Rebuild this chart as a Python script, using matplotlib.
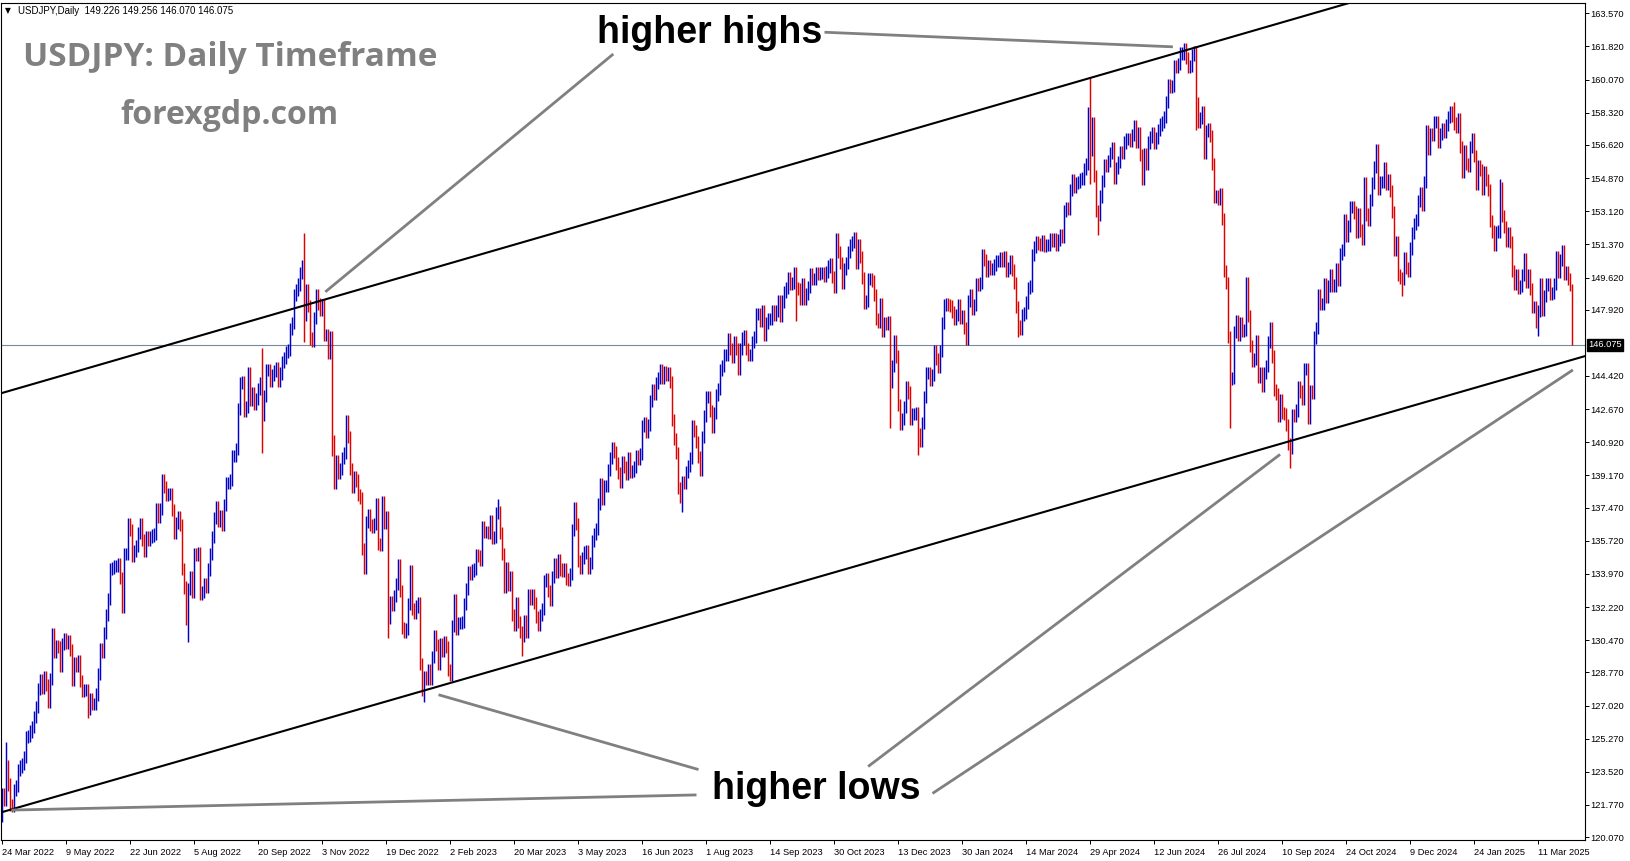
import numpy as np
import pandas as pd
import matplotlib
matplotlib.use("Agg")
import matplotlib.pyplot as plt

# USDJPY daily closes, one row per trading week
weekly_closes = [
    # 2022
    [122.35, 122.05],
    [123.85, 122.85, 121.75, 121.70, 122.55],
    [122.75, 123.60, 123.80, 123.95, 124.30],
    [125.35, 125.40, 125.65, 125.90, 126.40],
    [126.95, 127.90, 128.35, 127.95, 128.50],
    [128.10, 127.20, 128.40, 130.80, 129.85],
    [130.15, 130.10, 129.10, 130.25, 130.55],
    [130.30, 130.45, 129.95, 128.35, 129.25],
    [129.10, 129.35, 128.30, 127.80, 127.85],
    [127.85, 126.85, 127.35, 127.10, 127.10],
    [127.60, 128.70, 130.00, 129.85, 130.85],
    [131.80, 132.65, 134.25, 134.30, 134.40],
    [134.40, 134.50, 133.75, 132.20, 135.00],
    [135.00, 136.60, 136.30, 134.90, 135.20],
    [135.45, 136.15, 136.60, 135.75, 135.20],
    [135.90, 135.75, 135.90, 136.00, 136.10],
    [137.40, 137.00, 137.40, 138.90, 138.55],
    [138.15, 138.20, 138.20, 137.35, 136.15],
    [136.65, 136.95, 136.55, 134.25, 133.25],
    [131.60, 133.15, 133.80, 133.00, 135.00],
    [134.95, 135.05, 132.90, 133.00, 133.45],
    [133.30, 134.20, 135.00, 135.90, 136.90],
    [137.50, 136.75, 137.05, 136.55, 137.60],
    [138.75, 138.75, 138.95, 140.20, 140.20],
    [140.55, 142.70, 144.05, 144.10, 142.55],
    [142.80, 144.55, 143.15, 143.50, 142.95],
    [143.20, 143.75, 144.05, 142.35, 143.35],
    [144.75, 144.75, 144.15, 144.45, 144.70],
    [144.85, 144.15, 144.55, 145.15, 145.35],
    [145.70, 145.80, 146.90, 147.20, 148.70],
    [148.95, 149.25, 149.85, 150.20, 147.65],
    [148.95, 148.10, 146.40, 146.25, 147.50],
    [148.70, 148.20, 147.90, 148.15, 146.60],
    [146.60, 145.65, 146.45, 141.00, 138.75],
    [139.95, 139.30, 139.50, 140.10, 140.35],
    [142.05, 141.20, 139.50, 138.55, 139.10],
    [138.90, 138.15, 138.00, 135.30, 134.30],
    [136.70, 137.10, 136.55, 136.45, 136.60],
    [137.65, 135.55, 135.50, 137.75, 136.65],
    [136.95, 131.65, 132.50, 132.35, 132.80],
    [133.45, 134.45, 133.05, 131.10],
    # 2023
    [130.90, 131.05, 132.40, 134.10, 132.10],
    [131.90, 132.25, 132.45, 129.20, 127.85],
    [128.50, 128.45, 128.90, 128.45, 129.60],
    [130.70, 130.20, 129.20, 130.25, 129.90],
    [130.35, 130.10, 128.90, 128.65, 131.20],
    [132.60, 131.05, 131.40, 131.40, 131.45],
    [132.40, 133.15, 134.05, 133.95, 134.15],
    [134.25, 134.95, 134.90, 134.70, 136.45],
    [136.20, 136.20, 136.15, 136.75, 135.85],
    [135.90, 137.20, 137.25, 136.15, 135.00],
    [133.30, 134.30, 133.40, 133.80, 131.80],
    [131.30, 132.45, 131.45, 130.90, 130.70],
    [131.50, 130.90, 132.85, 132.65, 132.85],
    [132.45, 131.70, 131.30, 131.80, 132.10],
    [133.60, 133.70, 133.05, 132.60, 133.80],
    [134.50, 134.10, 134.70, 134.20, 134.15],
    [134.25, 133.70, 133.65, 133.95, 136.30],
    [137.45, 136.60, 134.65, 134.30, 134.80],
    [135.10, 135.15, 134.30, 134.55, 135.70],
    [136.10, 136.35, 137.65, 138.70, 137.95],
    [138.60, 138.60, 139.45, 140.10, 140.60],
    [140.40, 139.80, 139.30, 138.80, 139.90],
    [139.60, 139.25, 140.10, 139.35, 139.40],
    [139.60, 140.20, 140.05, 140.30, 141.80],
    [141.95, 141.45, 141.85, 143.10, 143.70],
    [143.45, 144.05, 144.30, 144.75, 144.30],
    [144.65, 144.50, 144.60, 144.10, 142.10],
    [141.10, 140.35, 138.50, 138.05, 138.80],
    [138.75, 139.35, 139.65, 140.10, 141.80],
    [141.50, 140.95, 140.15, 139.45, 141.20],
    [142.30, 143.30, 143.30, 142.55, 141.75],
    [142.45, 143.40, 143.75, 144.75, 144.95],
    [145.55, 145.55, 146.35, 145.85, 145.40],
    [146.20, 145.85, 144.80, 145.85, 146.40],
    [146.55, 145.85, 145.55, 145.55, 146.20],
    [146.50, 147.70, 147.70, 147.35, 147.85],
    [146.60, 147.20, 147.45, 147.45, 147.85],
    [147.65, 147.85, 148.35, 147.60, 148.35],
    [148.85, 149.05, 149.60, 149.30, 149.35],
    [149.85, 149.05, 149.00, 148.50, 149.30],
    [148.50, 148.75, 149.10, 149.80, 149.55],
    [149.55, 149.85, 149.80, 149.85, 149.85],
    [149.70, 149.90, 150.20, 150.35, 149.65],
    [149.10, 151.65, 150.95, 150.40, 149.35],
    [150.05, 150.40, 150.95, 151.35, 151.50],
    [151.70, 150.40, 151.35, 150.70, 149.60],
    [148.30, 148.40, 149.55, 149.55, 149.45],
    [148.70, 147.45, 147.25, 148.20, 146.80],
    [147.20, 147.15, 147.25, 144.10, 144.95],
    [146.25, 145.45, 142.90, 141.90, 142.15],
    [142.80, 143.85, 143.55, 142.15, 142.40],
    [142.40, 142.45, 141.35, 141.00],
    # 2024
    [141.95, 143.30, 144.60, 144.60],
    [144.20, 144.45, 145.75, 145.30, 144.90],
    [145.75, 147.20, 148.15, 148.20, 148.15],
    [148.10, 147.80, 147.45, 147.65, 148.15],
    [147.50, 147.60, 146.95, 146.40, 148.40],
    [148.70, 147.95, 148.15, 149.30, 149.25],
    [149.35, 150.80, 150.55, 149.95, 150.20],
    [150.05, 150.05, 150.30, 150.50, 150.50],
    [150.65, 150.50, 150.70, 149.95, 150.10],
    [150.50, 150.00, 149.35, 148.05, 147.05],
    [146.90, 147.65, 147.75, 148.30, 149.05],
    [149.15, 150.80, 151.25, 151.50, 151.40],
    [151.35, 151.55, 151.30, 151.35, 151.35],
    [151.65, 151.55, 151.65, 151.35, 151.60],
    [151.85, 151.75, 153.15, 153.30, 153.25],
    [154.25, 154.75, 154.40, 154.60, 154.65],
    [154.80, 154.85, 155.35, 155.60, 158.30],
    [156.35, 157.80, 155.00, 153.15, 152.95],
    [153.90, 154.70, 155.55, 155.50, 155.75],
    [156.20, 156.45, 154.90, 155.40, 155.70],
    [156.25, 156.20, 156.75, 156.95, 156.95],
    [156.85, 157.15, 157.60, 156.80, 157.25],
    [156.10, 154.80, 156.15, 155.60, 156.75],
    [157.05, 157.25, 156.75, 157.00, 157.40],
    [157.70, 157.85, 158.10, 158.90, 159.80],
    [159.70, 159.75, 160.80, 160.75, 160.90],
    [161.45, 161.45, 161.70, 161.20, 160.75],
    [160.80, 161.35, 161.55, 158.85, 157.85],
    [158.05, 158.35, 156.20, 157.35, 157.45],
    [157.10, 155.60, 153.90, 153.90, 153.75],
    [154.00, 152.70, 149.95, 149.35, 146.50],
    [144.25, 144.30, 146.75, 147.30, 146.60],
    [147.20, 146.80, 146.85, 149.35, 147.60],
    [146.00, 145.20, 145.30, 146.25, 144.35],
    [144.55, 143.90, 144.60, 144.95, 146.20],
    [146.95, 145.45, 143.70, 143.45, 142.30],
    [143.15, 142.45, 142.40, 141.85, 140.85],
    [140.60, 142.35, 142.30, 142.60, 143.85],
    [143.60, 143.20, 144.80, 144.80, 142.20],
    [143.60, 143.50, 146.45, 146.95, 148.70],
    [148.20, 148.20, 149.30, 148.60, 149.15],
    [149.75, 149.20, 149.20, 150.05, 149.50],
    [150.85, 151.05, 152.65, 151.80, 152.35],
    [153.35, 153.35, 153.05, 152.05, 152.95],
    [152.10, 151.65, 154.60, 152.95, 152.65],
    [153.70, 154.60, 155.45, 156.35, 154.30],
    [154.65, 154.65, 155.40, 154.55, 154.75],
    [154.20, 153.10, 151.10, 151.50, 149.75],
    [149.60, 149.55, 150.65, 150.10, 149.95],
    [151.15, 151.95, 152.45, 152.65, 153.65],
    [154.10, 153.45, 154.65, 157.35, 156.40],
    [157.20, 157.15, 157.85, 157.85],
    [156.80, 157.20, 157.45, 157.30],
    # 2025
    [157.65, 158.10, 158.35, 158.15, 157.75],
    [157.55, 158.00, 156.50, 155.20, 156.30],
    [155.60, 155.50, 156.50, 156.95, 156.05],
    [154.55, 155.50, 155.30, 154.30, 155.20],
    [154.75, 154.25, 152.60, 152.05, 151.35],
    [152.00, 152.05, 154.35, 152.85, 152.30],
    [151.55, 151.95, 151.50, 149.95, 149.30],
    [149.75, 149.05, 149.15, 149.75, 150.60],
    [149.40, 149.75, 149.00, 148.05, 148.05],
    [147.25, 147.85, 149.30, 147.90, 148.65],
    [149.25, 149.30, 148.75, 148.80, 149.30],
    [150.70, 149.90, 150.55, 151.00, 149.80],
    [149.90, 149.55, 149.25, 146.075],
]
first_open = 121.20
last_ohlc = [149.226, 149.256, 146.070, 146.075]
no_bar_days = ["2022-12-26", "2023-12-25", "2024-01-01", "2024-12-25", "2025-01-01"]

# long wicks that stick out of the close-to-close range
spike_highs = {
    "2022-03-28": 125.10, "2022-09-22": 145.90, "2022-10-21": 151.95,
    "2023-03-08": 137.90, "2023-10-03": 150.16, "2023-11-13": 151.91,
    "2024-04-29": 160.21, "2024-07-03": 161.95, "2024-07-11": 161.76,
    "2024-08-15": 149.39, "2025-01-10": 158.87, "2025-02-12": 154.80,
}
spike_lows = {
    "2022-03-24": 121.00, "2022-05-24": 126.36, "2022-08-02": 130.40,
    "2022-09-22": 140.35, "2022-10-21": 146.20, "2022-11-10": 140.20,
    "2022-12-20": 130.58, "2023-01-16": 127.22, "2023-03-24": 129.64,
    "2023-07-14": 137.24, "2023-10-03": 147.30, "2023-12-07": 141.65,
    "2023-12-28": 140.25, "2024-03-08": 146.48, "2024-04-29": 154.54,
    "2024-05-03": 151.86, "2024-07-11": 157.40, "2024-08-05": 141.68,
    "2024-09-16": 139.58, "2024-12-03": 148.65, "2025-03-11": 146.54,
}

# channel lines (bar index, price) and annotation pointers
upper_line = ([0, 785], [143.53, 167.53])
lower_line = ([0, 785], [121.40, 145.28])
pointer_lines = [
    ((411.0, 162.57), (585.2, 161.80)),
    ((305.4, 161.42), (161.4, 148.86)),
    ((348.0, 123.64), (218.0, 127.59)),
    ((347.0, 122.30), (4.5, 121.50)),
    ((432.8, 123.80), (638.8, 140.28)),
    ((465.0, 122.38), (785.2, 144.74)),
]
labels_text = [("higher highs", 353.6, 162.02), ("higher lows", 407.0, 122.10)]

y_labels = ["163.570", "161.820", "160.070", "158.320", "156.620", "154.870",
            "153.120", "151.370", "149.620", "147.920", "144.420", "142.670",
            "140.920", "139.170", "137.470", "135.720", "133.970", "132.220",
            "130.470", "128.770", "127.020", "125.270", "123.520", "121.770",
            "120.070"]

# build bars
closes = np.array([c for week in weekly_closes for c in week])
dates = pd.bdate_range("2022-03-24", "2025-04-03")
dates = dates[~dates.isin(pd.to_datetime(no_bar_days))]
n = min(len(dates), len(closes))
if len(dates) != len(closes):
    print("bar count mismatch", len(dates), len(closes))
dates, closes = dates[:n], closes[:n]

opens = np.concatenate([[first_open], closes[:-1]])
opens[-1] = last_ohlc[0]
wick = 0.32
highs = np.maximum(opens, closes) + wick
lows = np.minimum(opens, closes) - wick
highs[-1], lows[-1] = last_ohlc[1], last_ohlc[2]
pos = {d.strftime("%Y-%m-%d"): i for i, d in enumerate(dates)}
for d, v in spike_highs.items():
    if d in pos:
        highs[pos[d]] = max(highs[pos[d]], v)
for d, v in spike_lows.items():
    if d in pos:
        lows[pos[d]] = min(lows[pos[d]], v)
colors = np.where(closes >= opens, "#0000c8", "#e00000")

plt.rcParams["font.family"] = ["Liberation Sans", "DejaVu Sans"]

W, H = 1631, 861
fig = plt.figure(figsize=(W / 100, H / 100), dpi=100)
ax = fig.add_axes([1.5 / W, 1 - 840 / H, (1585 - 1.5) / W, (840 - 2.7) / H])
# 2 px per bar, bar centres on pixel centres
ax.set_xlim(-0.5, 791.25)
ax.set_ylim(119.92, 164.13)

x = np.arange(n)
ax.axhline(closes[-1], color="#778899", lw=0.8, zorder=1)
ax.vlines(x, lows, highs, colors=colors, linewidth=1.05, zorder=2)

xl = np.array(ax.get_xlim())
for bx, py in (upper_line, lower_line):
    slope = (py[1] - py[0]) / (bx[1] - bx[0])
    ax.plot(xl, py[0] + slope * (xl - bx[0]), color="black", lw=1.5, zorder=3)

for (x0, y0), (x1, y1) in pointer_lines:
    ax.plot([x0, x1], [y0, y1], color="#808080", lw=2.0, solid_capstyle="butt", zorder=3)

for txt, tx, ty in labels_text:
    ax.text(tx, ty, txt, fontsize=27, fontweight="bold", ha="center", va="baseline", zorder=4)

# axes, ticks
for s in ax.spines.values():
    s.set_linewidth(0.8)
    s.set_color("black")
ax.yaxis.tick_right()
ax.set_yticks([float(s) for s in y_labels], y_labels)
ax.tick_params(axis="y", length=3, width=0.7, pad=1, labelsize=6.7)
tick_idx = list(range(0, n, 32))
ax.set_xticks(tick_idx, [f"{dates[i].day} {dates[i]:%b %Y}" for i in tick_idx])
for lbl in ax.get_xticklabels():
    lbl.set_horizontalalignment("left")
ax.tick_params(axis="x", length=3, width=0.7, pad=3, labelsize=6.7)

ax.annotate(f"{closes[-1]:.3f}", xy=(1, closes[-1]), xycoords=("axes fraction", "data"),
            xytext=(2.2, 0), textcoords="offset points", ha="left", va="center",
            fontsize=6.7, color="white", annotation_clip=False,
            bbox=dict(boxstyle="square,pad=0.15", fc="black", ec="black"))

# header and watermark texts
fig.text(5 / W, 1 - 11 / H, "\u25bc", fontsize=5.5, family="DejaVu Sans", va="center")
fig.text(18.3 / W, 1 - 11 / H, "USDJPY,Daily  " + " ".join(f"{v:.3f}" for v in last_ohlc),
         fontsize=7, va="center")
fig.text(23 / W, 1 - 65.7 / H, "USDJPY: Daily Timeframe", fontsize=24, fontweight="bold",
         family="Open Sans", color="#808080", va="baseline")
fig.text(120.7 / W, 1 - 124 / H, "forexgdp.com", fontsize=23, fontweight="bold",
         family="Open Sans", color="#808080", va="baseline")

fig.savefig("out.png", dpi=100)
